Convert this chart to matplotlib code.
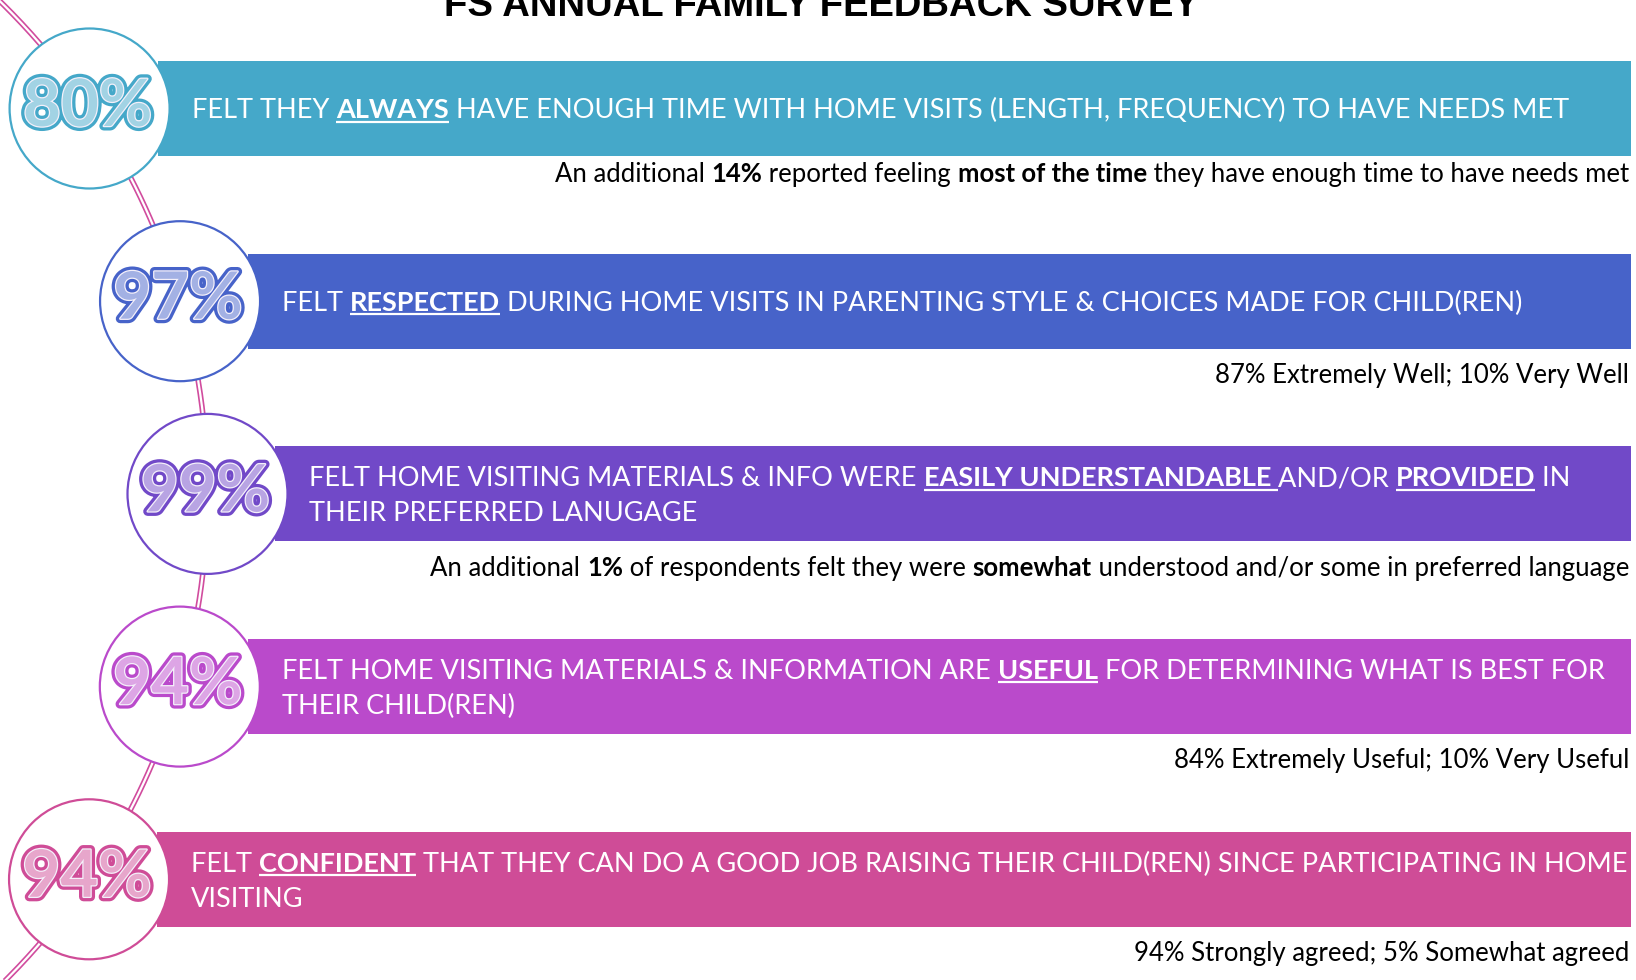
import matplotlib
matplotlib.use("Agg")
import matplotlib.pyplot as plt
import matplotlib.patheffects as pe
from matplotlib.patches import Circle, Rectangle
from matplotlib import colors as mcolors
import numpy as np

# ---------------- data ----------------
title = "FS ANNUAL FAMILY FEEDBACK SURVEY"
percents = ["80%", "97%", "99%", "94%", "94%"]
bar_colors = ["#45A8C9", "#4763C9", "#7149C8", "#BA4ACB", "#CF4C97"]

# each statement: list of lines; each line: list of (text, emphasised)
statements = [
    [[("FELT THEY ", 0), ("ALWAYS", 1),
      (" HAVE ENOUGH TIME WITH HOME VISITS (LENGTH, FREQUENCY) TO HAVE NEEDS MET", 0)]],
    [[("FELT ", 0), ("RESPECTED", 1),
      (" DURING HOME VISITS IN PARENTING STYLE & CHOICES MADE FOR CHILD(REN)", 0)]],
    [[("FELT HOME VISITING MATERIALS & INFO WERE ", 0), ("EASILY UNDERSTANDABLE ", 1),
      ("AND/OR ", 0), ("PROVIDED", 1), (" IN", 0)],
     [("THEIR PREFERRED LANUGAGE", 0)]],
    [[("FELT HOME VISITING MATERIALS & INFORMATION ARE ", 0), ("USEFUL", 1),
      (" FOR DETERMINING WHAT IS BEST FOR", 0)],
     [("THEIR CHILD(REN)", 0)]],
    [[("FELT ", 0), ("CONFIDENT", 1),
      (" THAT THEY CAN DO A GOOD JOB RAISING THEIR CHILD(REN) SINCE PARTICIPATING IN HOME", 0)],
     [("VISITING", 0)]],
]

subtexts = [
    [("An additional ", 0), ("14%", 1), (" reported feeling ", 0), ("most of the time", 1),
     (" they have enough time to have needs met", 0)],
    [("87% Extremely Well; 10% Very Well", 0)],
    [("An additional ", 0), ("1%", 1), (" of respondents felt they were ", 0), ("somewhat", 1),
     (" understood and/or some in preferred language", 0)],
    [("84% Extremely Useful; 10% Very Useful", 0)],
    [("94% Strongly agreed; 5% Somewhat agreed", 0)],
]

# ---------------- layout ----------------
W, H = 1636, 980
fig = plt.figure(figsize=(W / 100, H / 100), dpi=100)
ax = fig.add_axes([0, 0, 1, 1])
ax.set_xlim(0, W)
ax.set_ylim(H, 0)
ax.axis("off")

FONT = ["Lato", "DejaVu Sans"]
BAR_FS = 19.5
SUB_FS = 18.5
PCT_FS = 47
renderer = fig.canvas.get_renderer()

row_step = 192.7
first_center = 108.5
bar_h = 95
circ_r = 80
bar_right = 1631
sub_right = 1629
sub_offsets = [64, 72.5, 72.5, 72.5, 72.5]

# connecting arc
arc_cx, arc_cy, arc_R = -480.0, 493.5, 687.5
ys = np.linspace(-20, H + 20, 400)
xs = arc_cx + np.sqrt(arc_R ** 2 - (ys - arc_cy) ** 2)
ax.plot(xs, ys, color="#D14C9E", lw=4.0, zorder=1, solid_capstyle="butt")
ax.plot(xs, ys, color="white", lw=1.6, zorder=1.1, solid_capstyle="butt")


def seg_width(text, weight, size):
    t = ax.text(0, 0, "|" + text + "|", fontsize=size, fontweight=weight, family=FONT)
    w1 = t.get_window_extent(renderer).width
    t.remove()
    t = ax.text(0, 0, "||", fontsize=size, fontweight=weight, family=FONT)
    w0 = t.get_window_extent(renderer).width
    t.remove()
    return w1 - w0


def draw_line(segments, x, baseline, size, color, emph_underline, align_right=False):
    widths = [seg_width(s, "bold" if e else "normal", size) for s, e in segments]
    if align_right:
        x = x - sum(widths)
    for (s, e), w in zip(segments, widths):
        ax.text(x, baseline, s, fontsize=size, fontweight="bold" if e else "normal",
                family=FONT, color=color, ha="left", va="baseline", zorder=5)
        if e and emph_underline:
            ax.plot([x, x + w], [baseline + 3.5, baseline + 3.5], color=color, lw=1.6,
                    zorder=5, solid_capstyle="butt")
        x += w


for i in range(5):
    cy = first_center + row_step * i
    cx = arc_cx + np.sqrt(arc_R ** 2 - (cy - arc_cy) ** 2)
    col = bar_colors[i]
    bar_left = cx + 68
    ax.add_patch(Rectangle((bar_left, cy - bar_h / 2), bar_right - bar_left, bar_h,
                           facecolor=col, edgecolor="none", zorder=2))
    ax.add_patch(Circle((cx, cy), circ_r, facecolor="white", edgecolor=col, lw=1.6, zorder=3))

    # percentage in outlined lettering
    rgb = np.array(mcolors.to_rgb(col))
    tint = tuple(rgb * 0.5 + 0.5)
    ax.text(cx - 2, cy - 1, percents[i], fontsize=PCT_FS, fontweight="bold", family=FONT,
            color=tint, ha="center", va="center", zorder=4,
            path_effects=[pe.Stroke(linewidth=6.5, foreground=col),
                          pe.Stroke(linewidth=1.8, foreground="#F4F0FA"),
                          pe.Normal()])

    # statement text
    text_x = cx + 102
    cap = 0.72 * BAR_FS * 100 / 72
    lines = statements[i]
    n = len(lines)
    spacing = 35
    for j, line in enumerate(lines):
        line_c = cy + (j - (n - 1) / 2) * spacing
        draw_line(line, text_x, line_c + cap / 2, BAR_FS, "white", True)

    # sub text
    sub_cap = 0.72 * SUB_FS * 100 / 72
    sub_c = cy + sub_offsets[i]
    draw_line(subtexts[i], sub_right, sub_c + sub_cap / 2, SUB_FS, "black", False,
              align_right=True)

# title (partly clipped at the top, as in the source)
ax.text(821, 16, title, fontsize=27.5, fontweight="bold",
        family=["Liberation Sans Narrow", "Liberation Sans", "DejaVu Sans"],
        ha="center", va="baseline", color="black", zorder=6)

fig.savefig("out.png", dpi=100)
